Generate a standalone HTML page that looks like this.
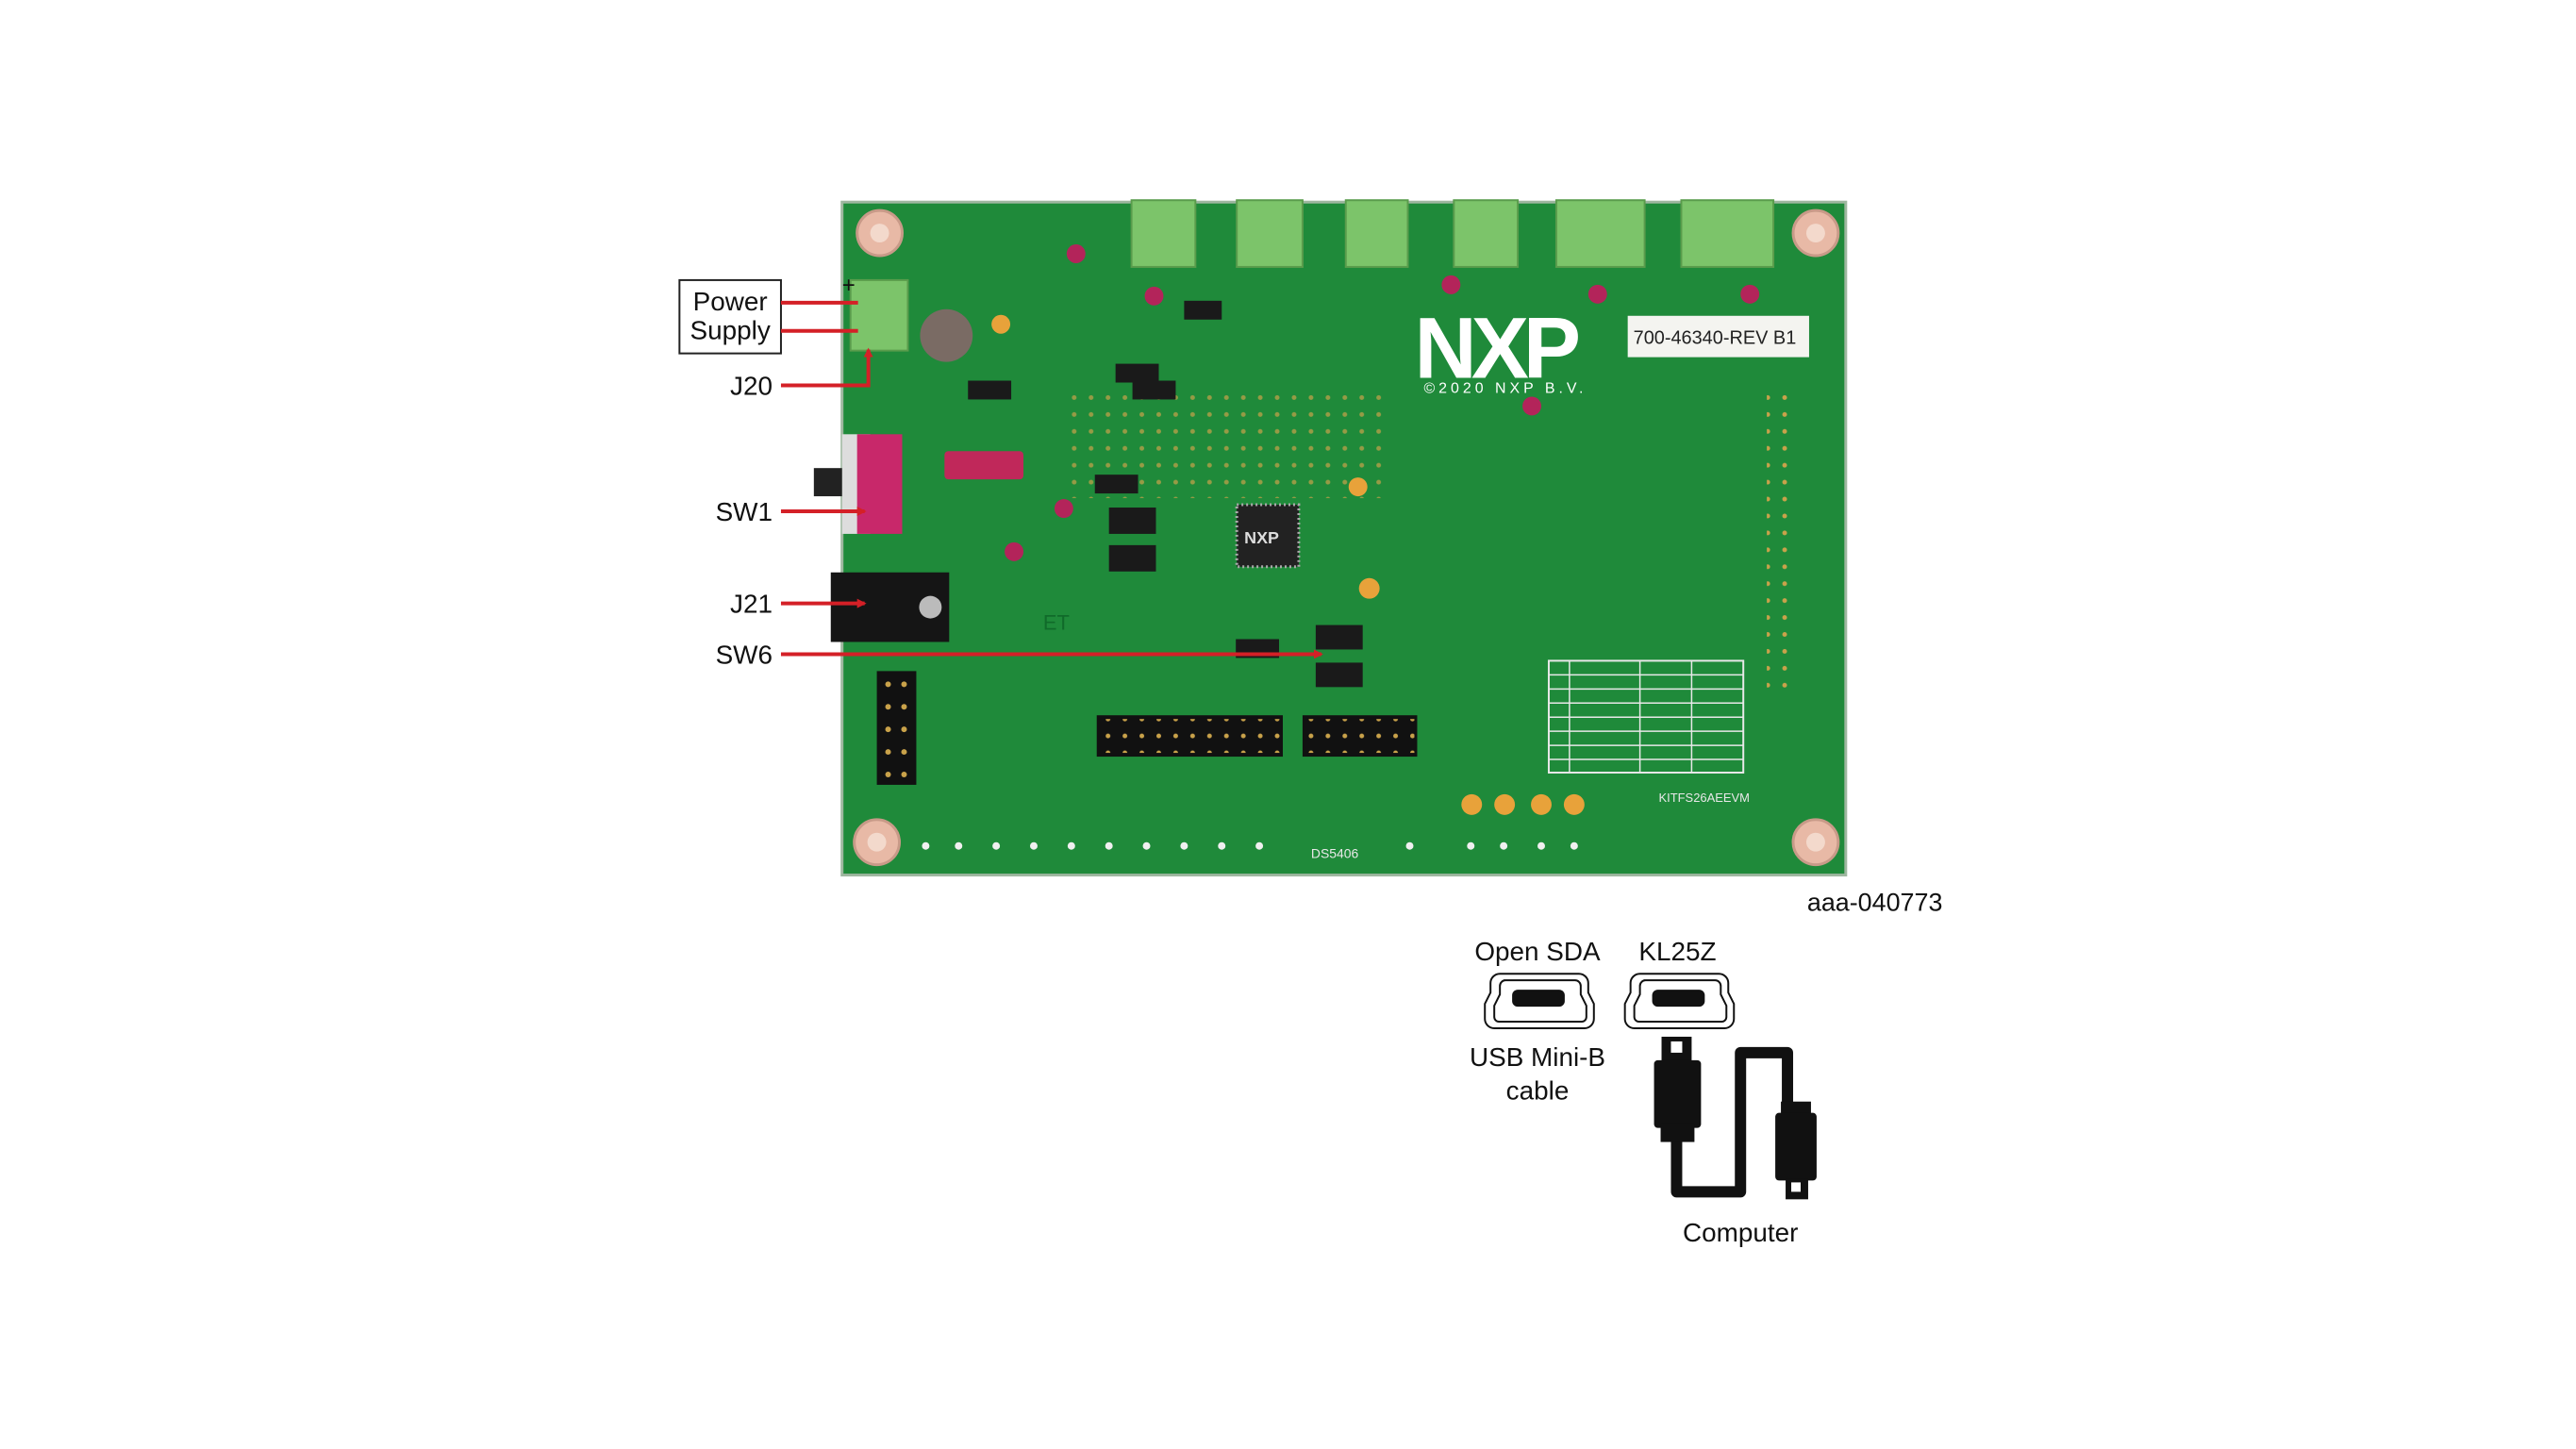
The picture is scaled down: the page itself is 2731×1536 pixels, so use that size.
<!DOCTYPE html>
<html><head><meta charset="utf-8"><style>
html,body{margin:0;padding:0;background:#fff}
svg{display:block}
text{font-family:"Liberation Sans",sans-serif}
</style></head><body>
<svg width="2731" height="1536" viewBox="0 0 2731 1536" xmlns="http://www.w3.org/2000/svg">
<defs>
<marker id="ah" markerWidth="10" markerHeight="10" refX="8" refY="5" orient="auto" markerUnits="userSpaceOnUse"><path d="M0,0 L10,5 L0,10 z" fill="#d42027"/></marker>
<pattern id="dots" width="18" height="18" patternUnits="userSpaceOnUse"><circle cx="9" cy="9" r="2.5" fill="#c9a24a"/></pattern>
</defs>
<g transform="scale(0.99634)">
<!-- board -->
<rect x="896" y="215" width="1068" height="716" fill="#1f8a3a" stroke="#9fb7a0" stroke-width="3"/>
<rect x="1130" y="420" width="340" height="110" fill="url(#dots)" opacity="0.7"/>
<g fill="#e8b9a6" stroke="#c89a88" stroke-width="3">
<circle cx="936" cy="248" r="24"/><circle cx="1932" cy="248" r="24"/><circle cx="933" cy="896" r="24"/><circle cx="1932" cy="896" r="24"/>
</g>
<g fill="#f3d9cc"><circle cx="936" cy="248" r="10"/><circle cx="1932" cy="248" r="10"/><circle cx="933" cy="896" r="10"/><circle cx="1932" cy="896" r="10"/></g>
<!-- terminal blocks -->
<g fill="#7cc46a" stroke="#5a9c4c" stroke-width="2">
<rect x="1204" y="213" width="68" height="71"/><rect x="1316" y="213" width="70" height="71"/><rect x="1432" y="213" width="66" height="71"/><rect x="1547" y="213" width="68" height="71"/><rect x="1656" y="213" width="94" height="71"/><rect x="1789" y="213" width="98" height="71"/>
<rect x="905" y="298" width="61" height="75"/>
</g>
<!-- NXP logo and label -->
<text x="1505" y="402" font-size="92" font-weight="bold" fill="#fff" letter-spacing="-6">NXP</text>
<text x="1515" y="418" font-size="16" fill="#fff" letter-spacing="4">©2020 NXP B.V.</text>
<rect x="1732" y="336" width="193" height="44" fill="#f4f4f0"/>
<text x="1738" y="366" font-size="20" font-family="Liberation Mono" fill="#222">700-46340-REV B1</text>
<!-- SW1 -->
<rect x="896" y="462" width="30" height="106" fill="#ddd"/>
<rect x="912" y="462" width="48" height="106" fill="#c8286a"/>
<rect x="866" y="498" width="30" height="30" fill="#222"/>
<!-- J21 jack -->
<rect x="884" y="609" width="126" height="74" fill="#151515"/>
<circle cx="990" cy="646" r="12" fill="#bbb"/>
<!-- JP1 pink -->
<rect x="1005" y="480" width="84" height="30" rx="4" fill="#c0285a"/>
<!-- inductor -->
<circle cx="1007" cy="357" r="28" fill="#7a6b64"/>
<!-- chip -->
<rect x="1316" y="537" width="66" height="66" fill="#222" stroke="#aaa" stroke-width="3" stroke-dasharray="2 3"/>
<text x="1324" y="578" font-size="18" font-weight="bold" fill="#ddd">NXP</text>
<!-- switches -->
<g fill="#1a1a1a"><rect x="1180" y="540" width="50" height="28"/><rect x="1180" y="580" width="50" height="28"/><rect x="1400" y="665" width="50" height="26"/><rect x="1400" y="705" width="50" height="26"/>
<rect x="1030" y="405" width="46" height="20"/><rect x="1205" y="405" width="46" height="20"/><rect x="1187" y="387" width="46" height="20"/><rect x="1260" y="320" width="40" height="20"/><rect x="1165" y="505" width="46" height="20"/><rect x="1315" y="680" width="46" height="20"/></g>
<!-- J12 -->
<rect x="933" y="714" width="42" height="121" fill="#111"/>
<!-- J23 / J11 headers -->
<rect x="1167" y="761" width="198" height="44" fill="#111"/>
<rect x="1386" y="761" width="122" height="44" fill="#111"/>
<g fill="#c9a24a">
<circle cx="945" cy="728" r="3"/><circle cx="962" cy="728" r="3"/><circle cx="945" cy="752" r="3"/><circle cx="962" cy="752" r="3"/><circle cx="945" cy="776" r="3"/><circle cx="962" cy="776" r="3"/><circle cx="945" cy="800" r="3"/><circle cx="962" cy="800" r="3"/><circle cx="945" cy="824" r="3"/><circle cx="962" cy="824" r="3"/>
</g>
<rect x="1170" y="765" width="192" height="36" fill="url(#dots)"/>
<rect x="1389" y="765" width="116" height="36" fill="url(#dots)"/>
<!-- table -->
<rect x="1648" y="703" width="207" height="119" fill="none" stroke="#e8e8e8" stroke-width="2"/>
<g stroke="#e8e8e8" stroke-width="1.5">
<line x1="1648" y1="718" x2="1855" y2="718"/><line x1="1648" y1="733" x2="1855" y2="733"/><line x1="1648" y1="748" x2="1855" y2="748"/><line x1="1648" y1="763" x2="1855" y2="763"/><line x1="1648" y1="778" x2="1855" y2="778"/><line x1="1648" y1="793" x2="1855" y2="793"/><line x1="1648" y1="808" x2="1855" y2="808"/>
<line x1="1670" y1="703" x2="1670" y2="822"/><line x1="1745" y1="703" x2="1745" y2="822"/><line x1="1800" y1="703" x2="1800" y2="822"/>
</g>
<!-- right pin column -->
<rect x="1880" y="420" width="26" height="320" fill="url(#dots)"/>
<!-- orange TPs -->
<g fill="#e8a23a"><circle cx="1566" cy="856" r="11"/><circle cx="1601" cy="856" r="11"/><circle cx="1640" cy="856" r="11"/><circle cx="1675" cy="856" r="11"/><circle cx="1457" cy="626" r="11"/><circle cx="1445" cy="518" r="10"/><circle cx="1065" cy="345" r="10"/></g>
<g fill="#b3245a"><circle cx="1145" cy="270" r="10"/><circle cx="1228" cy="315" r="10"/><circle cx="1544" cy="303" r="10"/><circle cx="1700" cy="313" r="10"/><circle cx="1862" cy="313" r="10"/><circle cx="1630" cy="432" r="10"/><circle cx="1132" cy="541" r="10"/><circle cx="1079" cy="587" r="10"/></g>
<g fill="#f0f0f0"><circle cx="985" cy="900" r="4"/><circle cx="1020" cy="900" r="4"/><circle cx="1060" cy="900" r="4"/><circle cx="1100" cy="900" r="4"/><circle cx="1140" cy="900" r="4"/><circle cx="1180" cy="900" r="4"/><circle cx="1220" cy="900" r="4"/><circle cx="1260" cy="900" r="4"/><circle cx="1300" cy="900" r="4"/><circle cx="1340" cy="900" r="4"/><circle cx="1500" cy="900" r="4"/><circle cx="1565" cy="900" r="4"/><circle cx="1600" cy="900" r="4"/><circle cx="1640" cy="900" r="4"/><circle cx="1675" cy="900" r="4"/></g>
<text x="1395" y="913" font-size="14" fill="#e8e8e8">DS5406</text>
<text x="1765" y="853" font-size="13" fill="#e8e8e8">KITFS26AEEVM</text>
<text x="1110" y="670" font-size="22" fill="#106a2a">ET</text>
<!-- callouts -->
<rect x="723" y="298" width="108" height="78" fill="#fff" stroke="#222" stroke-width="2"/>
<text x="777" y="330" font-size="28" text-anchor="middle" fill="#111">Power</text>
<text x="777" y="361" font-size="28" text-anchor="middle" fill="#111">Supply</text>
<g stroke="#d42027" stroke-width="4" fill="none">
<line x1="831" y1="322" x2="913" y2="322"/>
<line x1="831" y1="352" x2="913" y2="352"/>
<polyline points="831,410 924,410 924,372" marker-end="url(#ah)"/>
<line x1="831" y1="544" x2="920" y2="544" marker-end="url(#ah)"/>
<line x1="831" y1="642" x2="920" y2="642" marker-end="url(#ah)"/>
<line x1="831" y1="696" x2="1406" y2="696" marker-end="url(#ah)"/>
</g>
<text x="896" y="311" font-size="24" fill="#111">+</text>
<g font-size="28" fill="#111" text-anchor="end">
<text x="822" y="420">J20</text><text x="822" y="554">SW1</text><text x="822" y="652">J21</text><text x="822" y="706">SW6</text>
</g>
<text x="2067" y="969" font-size="27" text-anchor="end" fill="#111">aaa-040773</text>
<g font-size="28" fill="#111" text-anchor="middle">
<text x="1636" y="1022">Open SDA</text><text x="1785" y="1022">KL25Z</text>
<text x="1636" y="1134">USB Mini-B</text><text x="1636" y="1170">cable</text>
<text x="1852" y="1321">Computer</text>
</g>
<!-- USB connectors -->
<g fill="none" stroke="#111" stroke-width="2">
<path d="M1596,1036 h84 a10,10 0 0 1 10,10 v10 l6,12 v16 a10,10 0 0 1 -10,10 h-96 a10,10 0 0 1 -10,-10 v-16 l6,-12 v-10 a10,10 0 0 1 10,-10z"/>
<path d="M1600,1043 h76 a6,6 0 0 1 6,6 v9 l6,12 v12 a5,5 0 0 1 -5,5 h-88 a5,5 0 0 1 -5,-5 v-12 l6,-12 v-9 a6,6 0 0 1 6,-6z"/>
<path d="M1745,1036 h84 a10,10 0 0 1 10,10 v10 l6,12 v16 a10,10 0 0 1 -10,10 h-96 a10,10 0 0 1 -10,-10 v-16 l6,-12 v-10 a10,10 0 0 1 10,-10z"/>
<path d="M1749,1043 h76 a6,6 0 0 1 6,6 v9 l6,12 v12 a5,5 0 0 1 -5,5 h-88 a5,5 0 0 1 -5,-5 v-12 l6,-12 v-9 a6,6 0 0 1 6,-6z"/>
</g>
<rect x="1609" y="1053" width="56" height="18" rx="6" fill="#111"/>
<rect x="1758" y="1053" width="56" height="18" rx="6" fill="#111"/>
<!-- cable -->
<path d="M1784,1190 V1268 H1852 V1120 H1902 V1180" fill="none" stroke="#111" stroke-width="12" stroke-linejoin="round"/>
<rect x="1768" y="1103" width="32" height="28" fill="#111"/>
<rect x="1778" y="1108" width="12" height="12" fill="#fff"/>
<rect x="1760" y="1128" width="50" height="72" rx="4" fill="#111"/>
<rect x="1767" y="1195" width="36" height="20" fill="#111"/>
<rect x="1895" y="1172" width="32" height="14" fill="#111"/>
<rect x="1889" y="1184" width="44" height="72" rx="4" fill="#111"/>
<rect x="1900" y="1254" width="24" height="22" fill="#111"/>
<rect x="1906" y="1258" width="10" height="10" fill="#fff"/>
</g>
</svg>
</body></html>
